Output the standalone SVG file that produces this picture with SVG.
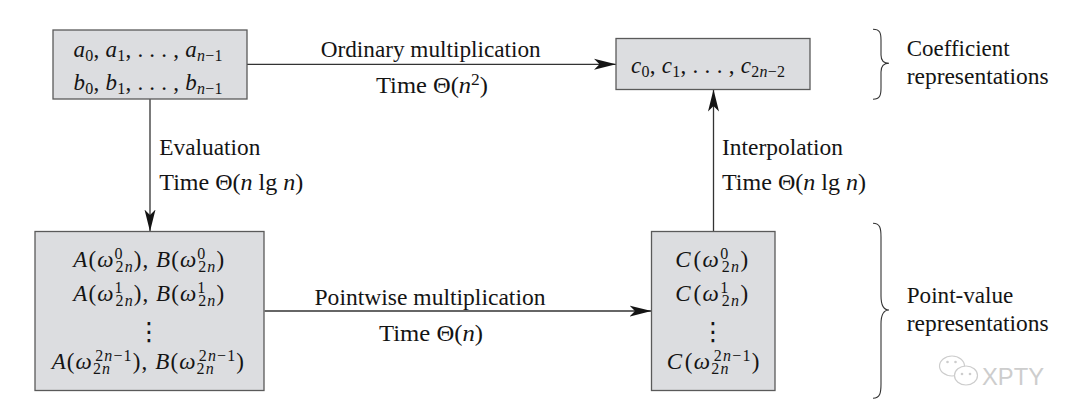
<svg xmlns="http://www.w3.org/2000/svg" width="1080" height="420" viewBox="0 0 1080 420">
<defs>
<style>
.t{font-family:"Liberation Serif","Times New Roman",serif;font-size:22.5px;fill:#141414}
.m{font-family:"Liberation Serif","Times New Roman",serif;font-size:23px;fill:#141414}
.i{font-style:italic}
.s{font-size:16px}
.box{fill:#dcdde0;stroke:#5a5a5a;stroke-width:1.3}
.edge{stroke:#333;stroke-width:1.3;fill:none}
.brace{stroke:#333;stroke-width:1.1;fill:none}
.dots{font-family:"DejaVu Serif","DejaVu Sans",serif;font-size:25px;fill:#141414}
.wm{font-family:"Liberation Sans","DejaVu Sans",sans-serif;font-size:24px;fill:#cdcdcd}
.wmi{fill:#fff;stroke:#cdcdcd;stroke-width:1.2}
</style>
<marker id="ah" markerUnits="userSpaceOnUse" markerWidth="22" markerHeight="12" refX="20" refY="5" orient="auto" viewBox="0 0 20 10">
<path d="M0,0 L20,5 L0,10 L5,5 Z" fill="#141414"/>
</marker>
</defs>
<rect width="1080" height="420" fill="#fff"/>

<g id="connectors">
<line class="edge" x1="247" y1="64.3" x2="616" y2="64.3" marker-end="url(#ah)"/>
<line class="edge" x1="150" y1="99" x2="150" y2="231.5" marker-end="url(#ah)"/>
<line class="edge" x1="713.5" y1="231.5" x2="713.5" y2="89.5" marker-end="url(#ah)"/>
<line class="edge" x1="264.5" y1="311" x2="651.5" y2="311" marker-end="url(#ah)"/>
</g>

<g id="labels">
<text class="t" x="430.7" y="56.7" text-anchor="middle" textLength="220" lengthAdjust="spacingAndGlyphs">Ordinary multiplication</text>
<text class="t" x="432" y="92.5" text-anchor="middle" textLength="112" lengthAdjust="spacingAndGlyphs">Time Θ(<tspan class="i">n</tspan><tspan class="s" dy="-8">2</tspan><tspan dy="8">)</tspan></text>
<text class="t" x="159.3" y="155" textLength="101" lengthAdjust="spacingAndGlyphs">Evaluation</text>
<text class="t" x="159.3" y="190" textLength="144" lengthAdjust="spacingAndGlyphs">Time Θ(<tspan class="i">n</tspan> lg <tspan class="i">n</tspan>)</text>
<text class="t" x="722" y="155" textLength="121" lengthAdjust="spacingAndGlyphs">Interpolation</text>
<text class="t" x="722" y="190" textLength="144" lengthAdjust="spacingAndGlyphs">Time Θ(<tspan class="i">n</tspan> lg <tspan class="i">n</tspan>)</text>
<text class="t" x="430" y="305" text-anchor="middle" textLength="231" lengthAdjust="spacingAndGlyphs">Pointwise multiplication</text>
<text class="t" x="431" y="340.5" text-anchor="middle" textLength="104" lengthAdjust="spacingAndGlyphs">Time Θ(<tspan class="i">n</tspan>)</text>
</g>

<g id="node-coeff-ab">
<rect class="box" x="53" y="30" width="194" height="69"/>
<text class="m" x="148" y="56.5" text-anchor="middle" textLength="149" lengthAdjust="spacing"><tspan class="i">a</tspan><tspan class="s" dy="4">0</tspan><tspan dy="-4">, </tspan><tspan class="i">a</tspan><tspan class="s" dy="4">1</tspan><tspan dy="-4">, . . . , </tspan><tspan class="i">a</tspan><tspan class="s" dy="4"><tspan class="i">n</tspan>−1</tspan></text>
<text class="m" x="148" y="89.5" text-anchor="middle" textLength="149" lengthAdjust="spacing"><tspan class="i">b</tspan><tspan class="s" dy="4">0</tspan><tspan dy="-4">, </tspan><tspan class="i">b</tspan><tspan class="s" dy="4">1</tspan><tspan dy="-4">, . . . , </tspan><tspan class="i">b</tspan><tspan class="s" dy="4"><tspan class="i">n</tspan>−1</tspan></text>
</g>

<g id="node-coeff-c">
<rect class="box" x="616" y="38.5" width="194" height="51"/>
<text class="m" x="708" y="73" text-anchor="middle" textLength="154" lengthAdjust="spacing"><tspan class="i">c</tspan><tspan class="s" dy="4">0</tspan><tspan dy="-4">, </tspan><tspan class="i">c</tspan><tspan class="s" dy="4">1</tspan><tspan dy="-4">, . . . , </tspan><tspan class="i">c</tspan><tspan class="s" dy="4">2<tspan class="i">n</tspan>−2</tspan></text>
</g>

<g id="node-pv-ab">
<rect class="box" x="35" y="231.5" width="229" height="159"/>
<text class="m" x="148.7" y="267" text-anchor="middle" textLength="150.7" lengthAdjust="spacing"><tspan class="i">A</tspan>(<tspan class="i">ω</tspan><tspan class="s" dy="-8.5">0</tspan><tspan class="s" dx="-8" dy="13.5">2<tspan class="i">n</tspan></tspan><tspan dy="-5">), </tspan><tspan class="i">B</tspan>(<tspan class="i">ω</tspan><tspan class="s" dy="-8.5">0</tspan><tspan class="s" dx="-8" dy="13.5">2<tspan class="i">n</tspan></tspan><tspan dy="-5">)</tspan></text>
<text class="m" x="148.7" y="301" text-anchor="middle" textLength="150.7" lengthAdjust="spacing"><tspan class="i">A</tspan>(<tspan class="i">ω</tspan><tspan class="s" dy="-8.5">1</tspan><tspan class="s" dx="-8" dy="13.5">2<tspan class="i">n</tspan></tspan><tspan dy="-5">), </tspan><tspan class="i">B</tspan>(<tspan class="i">ω</tspan><tspan class="s" dy="-8.5">1</tspan><tspan class="s" dx="-8" dy="13.5">2<tspan class="i">n</tspan></tspan><tspan dy="-5">)</tspan></text>
<text class="dots" x="149" y="340" text-anchor="middle">⋮</text>
<text class="m" x="147.8" y="369" text-anchor="middle" textLength="192.3" lengthAdjust="spacing"><tspan class="i">A</tspan>(<tspan class="i">ω</tspan><tspan class="s" dy="5">2<tspan class="i">n</tspan></tspan><tspan class="s" dx="-16" dy="-13.5">2<tspan class="i">n</tspan>−1</tspan><tspan dy="8.5">), </tspan><tspan class="i">B</tspan>(<tspan class="i">ω</tspan><tspan class="s" dy="5">2<tspan class="i">n</tspan></tspan><tspan class="s" dx="-16" dy="-13.5">2<tspan class="i">n</tspan>−1</tspan><tspan dy="8.5">)</tspan></text>
</g>

<g id="node-pv-c">
<rect class="box" x="651.5" y="231.5" width="123.5" height="159"/>
<text class="m" x="711.7" y="267" text-anchor="middle" textLength="73" lengthAdjust="spacing"><tspan class="i">C</tspan><tspan dx="1.5">(</tspan><tspan class="i">ω</tspan><tspan class="s" dy="-8.5">0</tspan><tspan class="s" dx="-8" dy="13.5">2<tspan class="i">n</tspan></tspan><tspan dy="-5">)</tspan></text>
<text class="m" x="711.7" y="301" text-anchor="middle" textLength="73" lengthAdjust="spacing"><tspan class="i">C</tspan><tspan dx="1.5">(</tspan><tspan class="i">ω</tspan><tspan class="s" dy="-8.5">1</tspan><tspan class="s" dx="-8" dy="13.5">2<tspan class="i">n</tspan></tspan><tspan dy="-5">)</tspan></text>
<text class="dots" x="713" y="340" text-anchor="middle">⋮</text>
<text class="m" x="713" y="369" text-anchor="middle" textLength="92.7" lengthAdjust="spacing"><tspan class="i">C</tspan><tspan dx="1.5">(</tspan><tspan class="i">ω</tspan><tspan class="s" dy="5">2<tspan class="i">n</tspan></tspan><tspan class="s" dx="-16" dy="-13.5">2<tspan class="i">n</tspan>−1</tspan><tspan dy="8.5">)</tspan></text>
</g>

<g id="legend-coefficient">
<path class="brace" d="M873,29.3 C880,29.3 881,33 881,40 L881,55 C881,60 883,63.3 889,63.3 C883,63.3 881,67 881,72 L881,88 C881,95 880,99.3 873,99.3"/>
<text class="t" x="906.7" y="56" textLength="103" lengthAdjust="spacingAndGlyphs">Coefficient</text>
<text class="t" x="906.7" y="84" textLength="142" lengthAdjust="spacingAndGlyphs">representations</text>
</g>

<g id="legend-pointvalue">
<path class="brace" d="M873,223.3 C880,223.3 881,228 881,237 L881,296 C881,304 883,310 889,310 C883,310 881,316 881,324 L881,384 C881,393 880,398.3 873,398.3"/>
<text class="t" x="906.7" y="303" textLength="106.7" lengthAdjust="spacingAndGlyphs">Point-value</text>
<text class="t" x="906.7" y="330.5" textLength="142" lengthAdjust="spacingAndGlyphs">representations</text>
</g>

<g id="watermark">
<ellipse class="wmi" cx="952" cy="366" rx="12.5" ry="10"/>
<ellipse class="wmi" cx="966" cy="375.5" rx="11.5" ry="9.5"/>
<circle cx="947.5" cy="362" r="1.3" fill="#cdcdcd"/>
<circle cx="955.5" cy="362" r="1.3" fill="#cdcdcd"/>
<circle cx="962" cy="374" r="1.3" fill="#cdcdcd"/>
<circle cx="970" cy="374" r="1.3" fill="#cdcdcd"/>
<text class="wm" x="982" y="384.5" textLength="62" lengthAdjust="spacingAndGlyphs">XPTY</text>
</g>
</svg>
